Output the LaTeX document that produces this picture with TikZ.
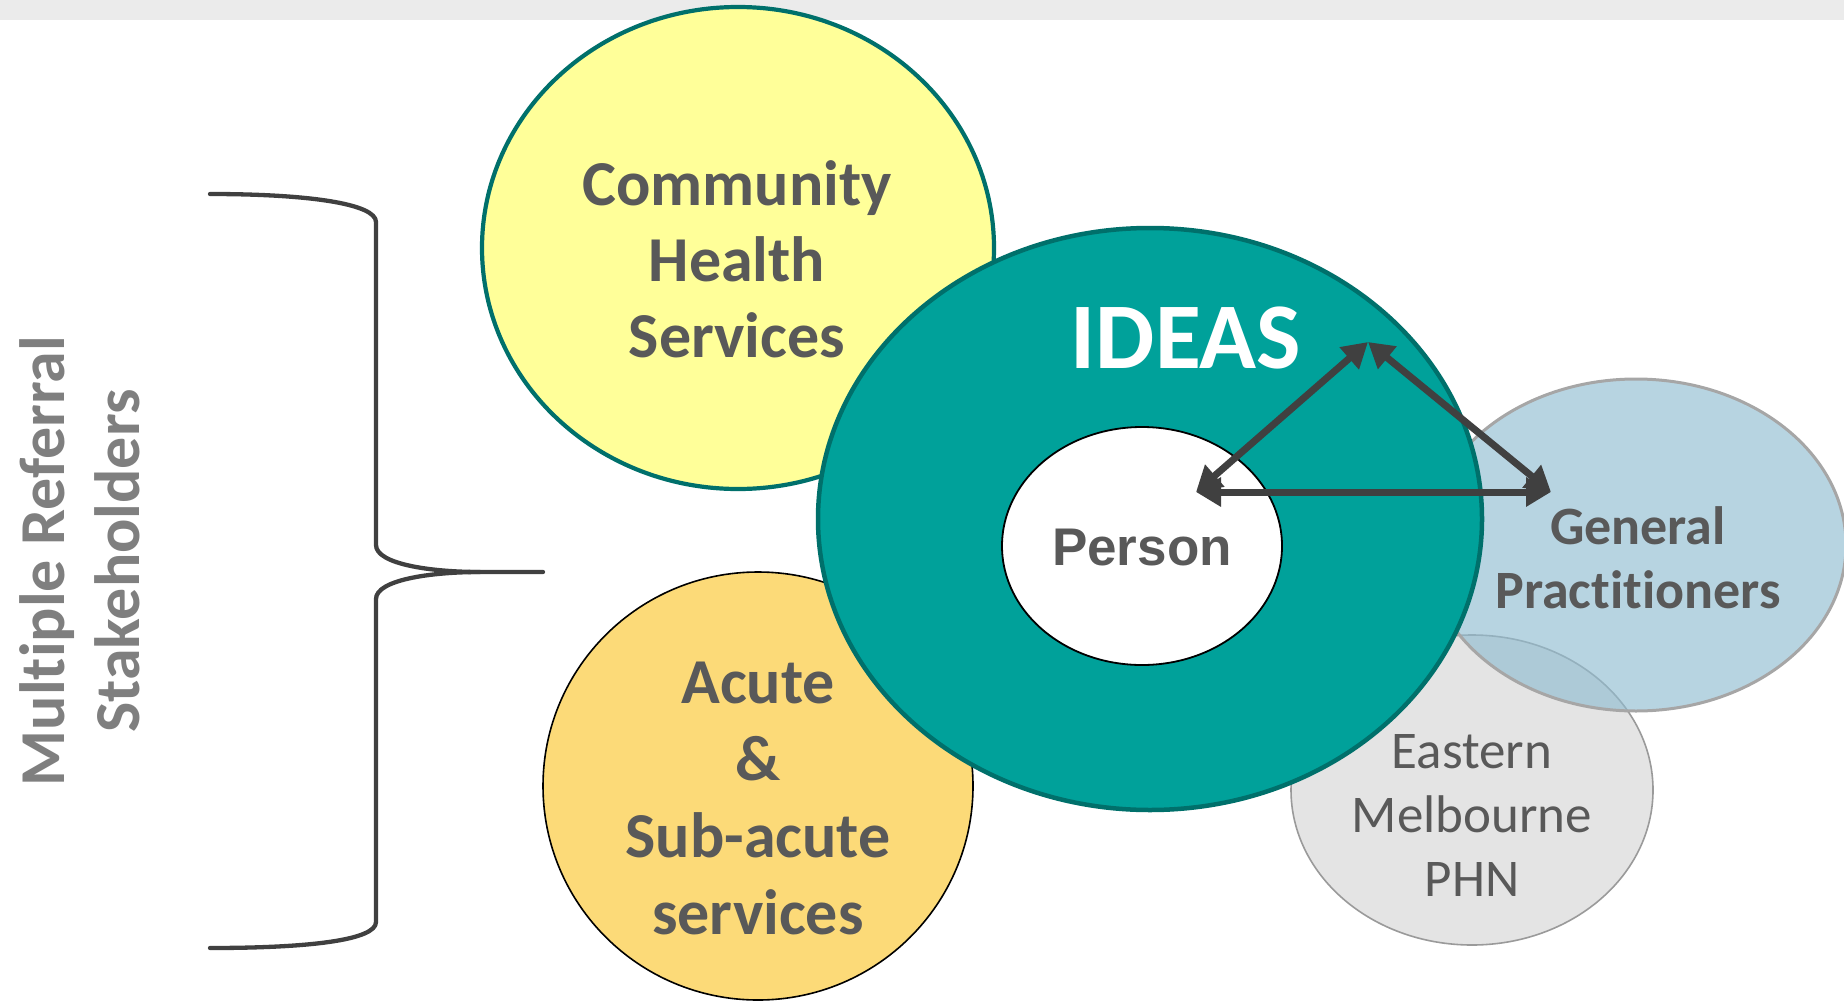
\documentclass[tikz,border=0pt]{standalone}
\usepackage{fontspec}
\setmainfont{Carlito}[Ligatures=NoCommon]
\newfontfamily\arialfont{Liberation Sans}
\usetikzlibrary{shapes.geometric,arrows.meta}
\definecolor{bandgray}{HTML}{EBEBEB}
\definecolor{chsfill}{HTML}{FFFF99}
\definecolor{tealdark}{HTML}{00706B}
\definecolor{tealfill}{HTML}{00A19A}
\definecolor{acutefill}{HTML}{FCDA78}
\definecolor{emfill}{HTML}{E4E4E4}
\definecolor{emline}{HTML}{9A9A9A}
\definecolor{gpfill}{HTML}{91BDD1}
\definecolor{gpline}{HTML}{A6A6A6}
\definecolor{txtgray}{HTML}{595959}
\definecolor{sidegray}{HTML}{7F7F7F}
\definecolor{arrowgray}{HTML}{404040}
\tikzset{
  blob/.style={ellipse, inner sep=0pt, outer sep=0pt},
  lbl/.style={align=center, text=txtgray, inner sep=0pt},
  link/.style={draw=arrowgray, line width=7pt, {Triangle[length=25pt,width=28pt]}-{Triangle[length=25pt,width=28pt]}},
  bracestyle/.style={draw=arrowgray, line width=4.3pt, line cap=round, line join=round}
}
\begin{document}
\begin{tikzpicture}[x=1pt,y=-1pt]
\useasboundingbox (0,0) rectangle (1844,1001);
\fill[bandgray] (0,0) rectangle (1844,20);
% ellipses
\node[blob, fill=chsfill, draw=tealdark, line width=4.2pt, minimum width=512pt, minimum height=482pt] (chs) at (738,248) {};
\node[blob, fill=acutefill, draw=black, line width=1.6pt, minimum width=430pt, minimum height=428pt] (acute) at (758,786) {};
\node[blob, fill=emfill, draw=emline, line width=1.6pt, minimum width=362pt, minimum height=310pt] (em) at (1472,790) {};
\node[blob, fill=gpfill, fill opacity=0.65, draw=gpline, draw opacity=1, line width=3pt, minimum width=420pt, minimum height=332pt] (gp) at (1636,545) {};
\node[blob, fill=tealfill, draw=tealdark, line width=4.5pt, minimum width=664pt, minimum height=582pt] (ideas) at (1150,519) {};
\node[blob, fill=white, draw=black, line width=1.8pt, minimum width=280pt, minimum height=238pt] (person) at (1142,546) {};
% arrows
\coordinate (pl) at (1196,492);
\coordinate (pt) at (1368,342);
\coordinate (pr) at (1551,492);
\draw[link] (pl) -- (pt);
\draw[link] (pt) -- (pr);
\draw[link] (pl) -- (pr);
% labels
\node[lbl, font=\bfseries\fontsize{64}{76}\selectfont] (chst) at (737,259) {Community\\Health\\Services};
\node[lbl, font=\bfseries\fontsize{64}{77}\selectfont] (acutet) at (758,798) {Acute\\\&\\Sub-acute\\services};
\node[lbl, font=\fontsize{53}{64}\selectfont] (emt) at (1472,815) {Eastern\\Melbourne\\PHN};
\node[lbl, font=\bfseries\fontsize{54}{64}\selectfont] (gpt) at (1638,558) {General\\Practitioners};
\node[lbl, text=white, font=\bfseries\fontsize{94}{100}\selectfont] (ideast) at (1186,338) {IDEAS};
\node[lbl, font=\arialfont\bfseries\fontsize{53}{60}\selectfont] (persont) at (1142,548) {Person};
\node[lbl, text=sidegray, rotate=90, font=\bfseries\fontsize{64}{75}\selectfont] (side) at (80,561) {Multiple Referral\\Stakeholders};
% brace
\draw[bracestyle] (210,194) .. controls (310,194) and (376,204) .. (376,222) -- (376,545) .. controls (376,564) and (430,572) .. (480,572) -- (543,572);
\draw[bracestyle] (480,572) .. controls (430,572) and (376,580) .. (376,599) -- (376,922) .. controls (376,940) and (310,948) .. (210,948);
\end{tikzpicture}
\end{document}
